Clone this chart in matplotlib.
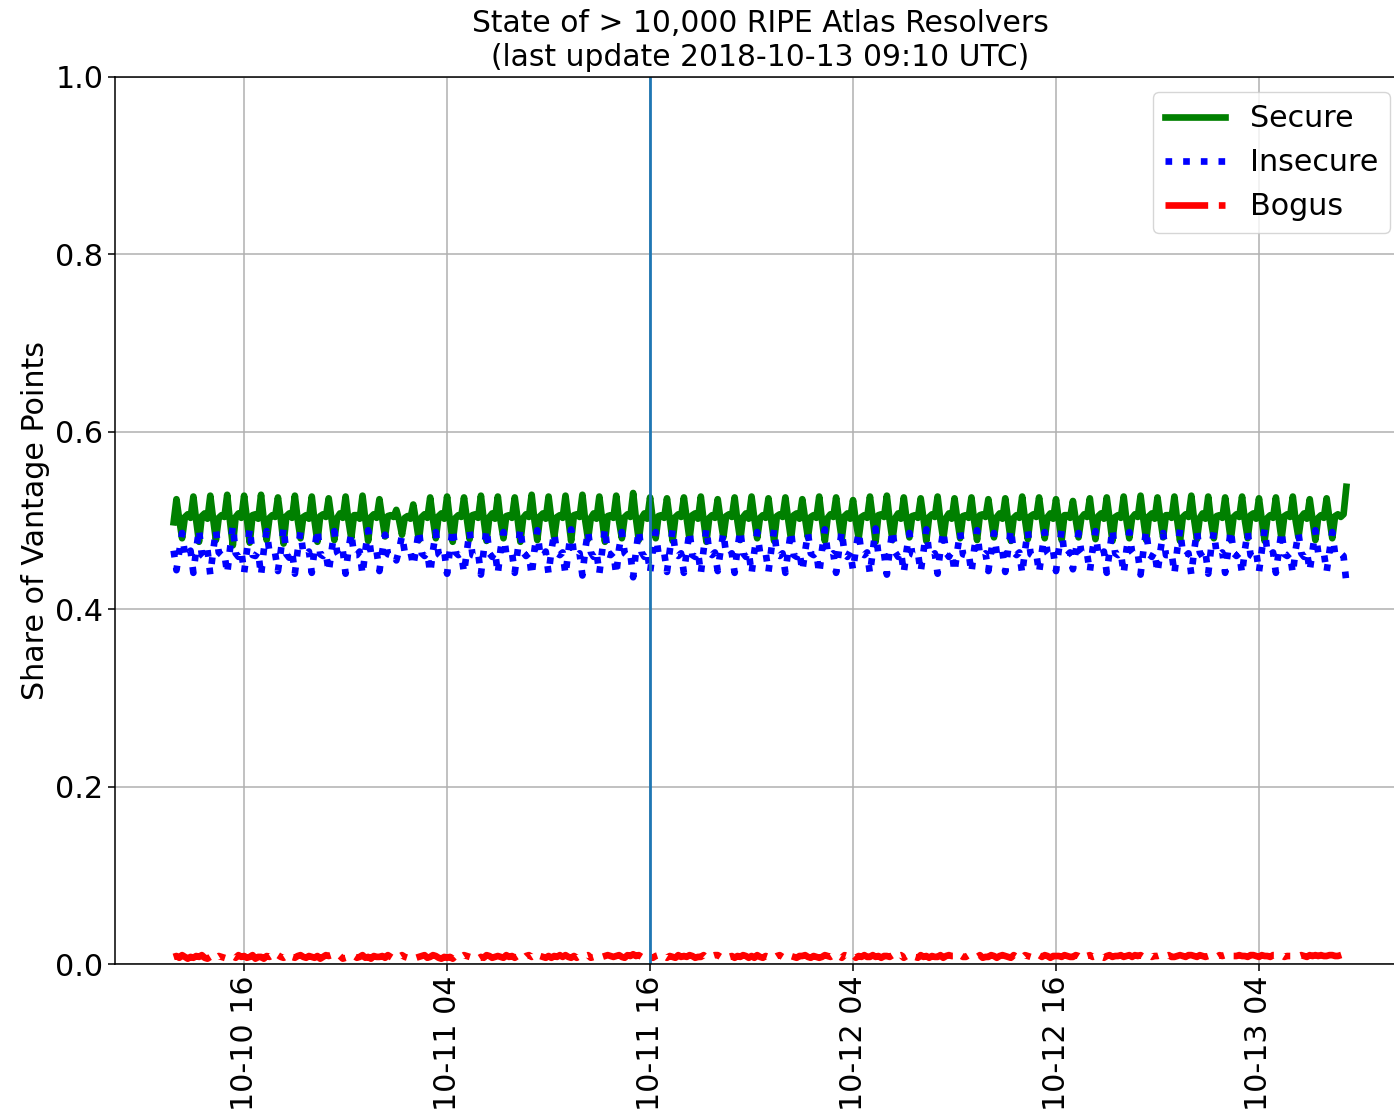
import matplotlib
matplotlib.use("Agg")
import matplotlib.pyplot as plt
import matplotlib.dates as mdates
import numpy as np
import pandas as pd

plt.rcParams['font.family'] = ['DejaVu Sans']
plt.rcParams['font.size'] = 21.7

# ---- data (shares in thousandths), 10-minute samples ----
start_time = "2018-10-10 11:50"

secure_first = [498]
secure_rows = """
524 501 480 504 507 503
527 500 476 505 508 502
528 502 478 503 506 504
529 499 472 504 508 503
528 501 475 506 507 502
529 500 478 503 506 504
526 502 474 505 508 503
528 501 480 504 506 502
527 499 476 505 507 504
525 502 478 503 508 503
527 500 480 506 506 502
528 501 477 504 507 503
524 502 482 505 506 504
512 500 484 503 505 502
518 499 478 504 507 503
526 501 480 505 508 502
527 500 476 503 506 504
526 502 479 506 507 503
528 501 477 504 508 502
527 499 480 505 506 503
526 502 476 503 507 504
529 500 478 505 508 502
527 501 481 504 506 503
528 502 477 506 507 504
529 500 479 503 508 502
527 501 476 505 506 503
528 499 480 504 507 504
531 502 478 503 508 502
526 500 480 505 506 503
525 501 477 504 507 504
526 502 479 506 508 502
527 500 476 503 506 503
524 501 481 505 507 504
526 499 478 504 508 502
527 502 480 503 506 503
525 500 477 505 507 504
526 501 479 506 508 502
524 502 481 504 506 503
527 500 477 503 507 504
526 501 479 505 508 502
523 499 480 504 506 503
527 502 476 506 507 504
528 500 478 503 508 502
526 501 481 505 506 503
525 502 477 504 507 504
527 500 479 503 508 502
525 501 480 505 506 503
526 499 478 506 507 504
524 502 481 504 508 502
525 500 477 503 506 503
527 501 479 505 507 504
526 502 480 504 508 502
524 500 478 506 506 503
522 501 481 503 507 504
525 499 479 505 508 502
526 502 477 504 506 503
527 500 480 503 507 504
528 501 478 505 508 502
526 502 481 506 506 503
527 500 477 504 507 504
528 501 479 503 508 502
527 499 480 505 506 503
526 502 478 504 507 504
527 500 480 506 508 502
525 501 477 503 506 503
526 502 479 505 507 504
527 500 481 504 508 502
524 501 478 503 506 503
525 502 480 505 507 504
"""
secure_last = [507, 538]

insecure_first = [466]
insecure_rows = """
444 465 486 462 459 466
441 467 490 461 458 467
439 465 489 464 461 463
440 468 494 463 459 466
441 466 491 461 460 465
438 467 488 464 461 463
443 465 492 462 458 466
440 466 487 463 461 465
441 468 490 462 460 464
442 465 488 464 459 466
440 467 486 461 461 465
439 466 489 463 460 465
443 465 484 462 461 463
455 467 483 464 462 465
449 468 489 463 460 464
441 466 487 462 459 465
440 467 491 464 461 463
441 465 488 461 460 464
439 466 490 463 459 465
440 468 487 462 461 464
441 465 491 464 460 463
438 467 489 462 459 465
440 466 486 463 461 464
439 465 490 461 460 463
438 467 488 464 459 465
440 466 491 462 461 464
439 468 487 463 460 463
436 465 489 464 459 465
441 467 487 462 461 464
442 466 490 463 460 463
441 465 488 461 459 465
440 467 491 464 461 464
443 466 486 462 460 463
441 468 489 463 459 465
440 465 487 464 461 464
442 467 490 462 460 463
441 466 488 461 459 465
443 465 486 463 461 464
440 467 490 464 460 463
441 466 488 462 459 465
444 468 487 463 461 464
440 465 491 461 460 463
439 467 489 464 459 465
441 466 486 462 461 464
442 465 490 463 460 463
440 467 488 464 459 465
442 466 487 462 461 464
441 468 489 461 460 463
443 465 486 463 459 465
442 467 490 464 461 464
440 466 488 462 460 463
441 465 487 463 459 465
443 467 489 461 461 464
445 466 486 464 460 463
442 468 488 462 459 465
441 465 490 463 461 464
440 467 487 464 460 463
439 466 489 462 459 465
441 465 486 461 461 464
440 467 490 463 460 463
439 466 488 464 459 465
440 468 487 462 461 464
441 465 489 463 460 463
440 467 487 461 459 465
442 466 490 464 461 464
441 465 488 462 460 463
440 467 486 463 459 465
443 466 489 464 461 464
442 465 487 462 460 463
"""
insecure_last = [460, 430]

bogus_first = [8]
bogus_rows = """
9 7 10 8 6 8
7 9 8 10 7 6
8 10 7 9 8 7
6 8 9 7 10 8
9 7 8 10 6 8
8 6 9 8 10 7
10 8 7 9 6 8
7 9 10 8 7 9
8 7 9 6 8 10
9 10 8 7 9 6
7 8 10 9 7 8
10 7 8 6 9 8
8 9 7 10 8 6
6 8 10 8 7 9
9 7 8 9 10 7
8 10 9 7 6 8
7 8 6 9 10 8
10 9 8 7 8 6
8 7 10 9 7 8
9 8 7 10 8 9
7 9 8 6 9 10
8 10 7 9 8 7
9 7 9 8 10 8
10 8 7 9 7 9
8 9 10 7 8 6
7 8 9 10 9 8
9 10 8 7 10 9
11 9 10 8 9 7
8 7 9 10 8 9
7 9 8 7 10 8
9 8 10 9 7 8
8 10 7 8 9 10
10 8 9 7 8 9
7 9 8 10 9 7
9 7 10 8 7 9
8 9 7 9 10 8
10 8 9 8 7 9
9 10 8 7 9 8
7 8 10 9 8 10
8 9 7 10 9 7
10 7 9 8 10 8
8 10 8 9 7 9
9 8 10 7 9 10
7 9 8 10 8 7
10 8 9 7 9 8
8 10 7 9 10 9
9 7 10 8 8 10
10 9 8 10 7 8
8 10 9 7 9 10
9 8 7 10 8 9
7 10 9 8 10 8
10 8 10 9 7 9
9 9 8 10 9 8
8 10 9 7 10 9
10 8 9 10 8 7
9 10 8 9 9 10
8 9 10 8 10 9
10 8 9 10 8 9
9 10 8 9 10 8
8 9 10 9 8 10
10 9 8 10 9 8
9 10 9 8 10 9
10 8 10 9 9 10
9 9 8 10 10 9
8 10 9 9 8 10
10 9 10 8 9 9
9 10 9 10 9 8
10 9 10 9 10 9
9 10 10 9 9 10
"""
bogus_last = [11, 12]

marker_time = "2018-10-11 16:00"
title_text = "State of > 10,000 RIPE Atlas Resolvers\n(last update 2018-10-13 09:10 UTC)"
labels = ["Secure", "Insecure", "Bogus"]


def build(first, rows, last):
    vals = first + [int(v) for v in rows.split()] + last
    return np.array(vals, dtype=float) / 1000.0


secure = build(secure_first, secure_rows, secure_last)
insecure = build(insecure_first, insecure_rows, insecure_last)
bogus = build(bogus_first, bogus_rows, bogus_last)
assert len(secure) == len(insecure) == len(bogus), (len(secure), len(insecure), len(bogus))
times = pd.date_range(start_time, periods=len(secure), freq="10min")

# ---- figure ----
W, H = 1394, 1114
fig = plt.figure(figsize=(W / 100, H / 100), dpi=100)
ax = fig.add_axes([115 / W, 150 / H, 1290 / W, 887 / H])

ax.plot(times, secure, color="green", lw=4.8, label=labels[0])
ax.plot(times, insecure, color="blue", ls=":", lw=4.8, label=labels[1])
ax.plot(times, bogus, color="red", ls="-.", lw=4.8, label=labels[2])
ax.axvline(pd.Timestamp(marker_time), color="#1f77b4", lw=2)

ax.set_ylim(0, 1.0)
ax.xaxis.set_major_locator(mdates.HourLocator(byhour=[4, 16]))
ax.xaxis.set_major_formatter(mdates.DateFormatter("%m-%d %H"))
plt.setp(ax.get_xticklabels(), rotation=90)
ax.set_yticks([0.0, 0.2, 0.4, 0.6, 0.8, 1.0])
ax.grid(True, color="#b0b0b0", lw=1.1)
ax.tick_params(length=5, width=1.1)
for s in ax.spines.values():
    s.set_linewidth(1.1)

ax.set_ylabel("Share of Vantage Points")
ax.set_title(title_text, pad=8, fontsize=21.4)
ax.legend(loc="upper right")

fig.savefig("out.png", dpi=100)
